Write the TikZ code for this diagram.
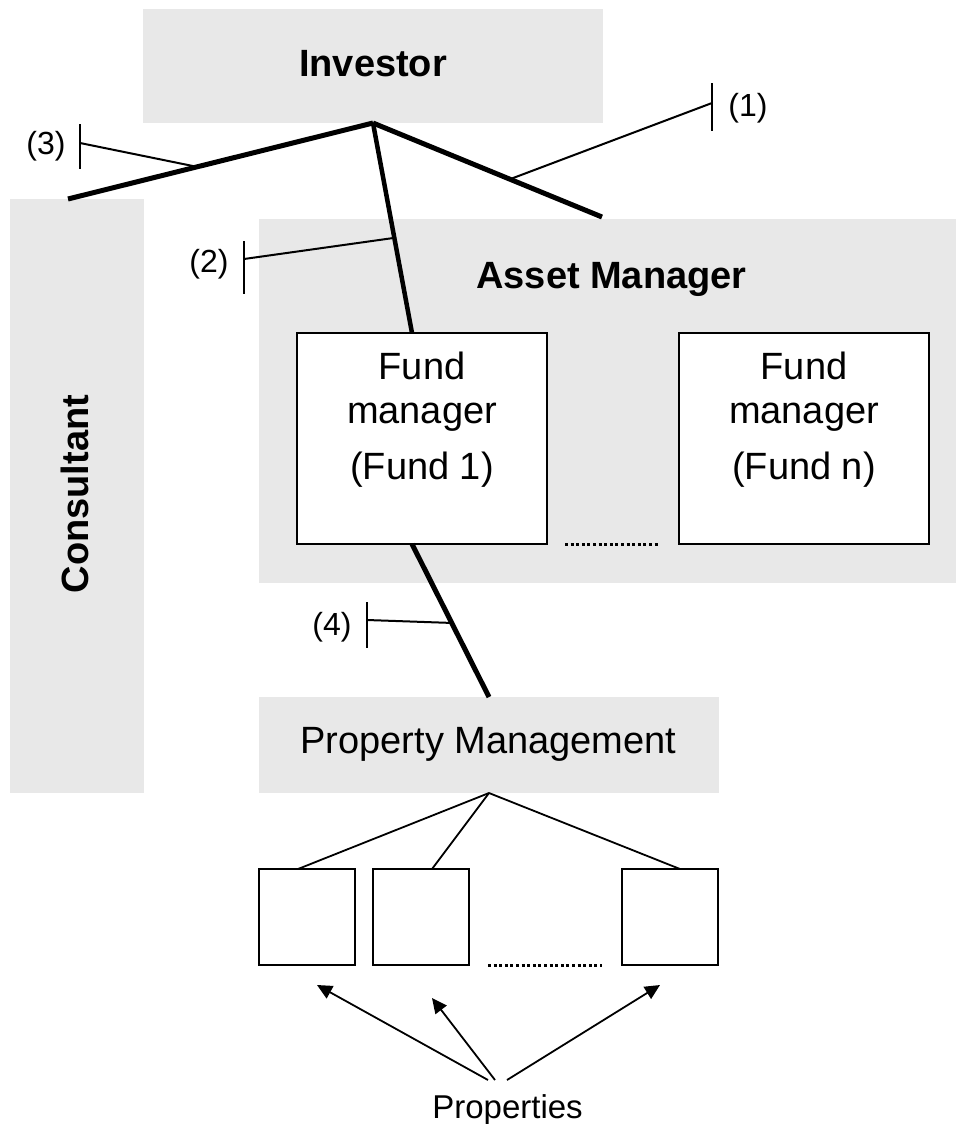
\documentclass[tikz,border=0pt]{standalone}
\usepackage{fontspec}
\setmainfont{Liberation Sans}
\usetikzlibrary{arrows.meta,calc}
\definecolor{boxgray}{RGB}{232,232,232}
\begin{document}
\begin{tikzpicture}[x=1pt,y=-1pt,
  graybox/.style={fill=boxgray, draw=none, inner sep=0pt, outer sep=0pt},
  whitebox/.style={fill=white, draw=black, line width=1.5pt, inner sep=0pt, outer sep=0pt},
  bigbold/.style={font=\fontsize{38}{44}\selectfont\bfseries, inner sep=0pt, anchor=base},
  bigreg/.style={font=\fontsize{38}{44}\selectfont, inner sep=0pt, anchor=base},
  fundtext/.style={font=\fontsize{38}{44}\selectfont, inner sep=0pt, align=center, anchor=north},
  labeltext/.style={font=\fontsize{32}{36}\selectfont, inner sep=0pt},
  heavyline/.style={line width=5pt},
  thinline/.style={line width=2pt},
  tickline/.style={line width=2.5pt},
  treeline/.style={line width=1.8pt},
  dotline/.style={line width=3pt, dash pattern=on 3pt off 2.6pt},
  arrowline/.style={line width=1.8pt, -{Triangle[length=15pt,width=14pt]}}
]
\useasboundingbox (0,0) rectangle (956,1124);

% boxes
\node[graybox, minimum width=460pt, minimum height=114pt] (inv) at (373,66) {};
\node[graybox, minimum width=134pt, minimum height=594pt] (cons) at (77,496) {};
\node[graybox, minimum width=697pt, minimum height=364pt] (am) at (607.5,401) {};
\node[whitebox, minimum width=250pt, minimum height=211pt] (fund1) at (422,438.5) {};
\node[whitebox, minimum width=250pt, minimum height=211pt] (fundn) at (804,438.5) {};
\node[graybox, minimum width=460pt, minimum height=96pt] (pm) at (489,745) {};
\node[whitebox, minimum width=96pt, minimum height=96pt] (sq1) at (307,917) {};
\node[whitebox, minimum width=96pt, minimum height=96pt] (sq2) at (421,917) {};
\node[whitebox, minimum width=96pt, minimum height=96pt] (sq3) at (670,917) {};

% texts
\node[bigbold] (invtxt) at (373,77) {Investor};
\node[bigbold, rotate=90] (constxt) at (88,494) {Consultant};
\node[bigbold] (amtxt) at (611.5,288) {Asset Manager};
\node[fundtext] (f1txt) at ([yshift=-19pt]fund1.north) {Fund\\manager\\[12pt](Fund 1)};
\node[fundtext] (fntxt) at ([yshift=-19pt]fundn.north) {Fund\\manager\\[12pt](Fund n)};
\node[bigreg] (pmtxt) at (488.5,753) {Property Management};
\node[font=\fontsize{33}{38}\selectfont, inner sep=0pt, anchor=base] (proptxt) at (507.5,1118) {Properties};
\node[labeltext] (lab1) at (748,108) {(1)};
\node[labeltext] (lab2) at (209,264) {(2)};
\node[labeltext] (lab3) at (46,146) {(3)};
\node[labeltext] (lab4) at (332,627) {(4)};

% free ends
\coordinate (c3end) at (68,199);
\coordinate (c1end) at (602,217);

% heavy connectors
\draw[heavyline] (inv.south) -- coordinate[pos=0.577] (m3) (c3end);
\draw[heavyline] (inv.south) -- coordinate[pos=0.598] (m1) (c1end);
\draw[line width=4.5pt] (inv.south) -- coordinate[pos=0.547] (m2) ([xshift=-10pt]fund1.north);
\draw[heavyline] ([xshift=-10pt]fund1.south) -- coordinate[pos=0.516] (m4) (pm.north);

% ticks
\coordinate (t1) at (712,103);
\coordinate (t2) at (244,259);
\coordinate (t3) at (80,143);
\coordinate (t4) at (367,620);
\draw[tickline] (712,83) -- (712,131);
\draw[tickline] (244,241) -- (244,294);
\draw[tickline] (80,124) -- (80,169);
\draw[tickline] (367,602) -- (367,648);
\draw[thinline] (t1) -- (m1);
\draw[thinline] (t2) -- (m2);
\draw[thinline] (t3) -- (m3);
\draw[thinline] (t4) -- (m4);

% dotted
\draw[dotline] ([xshift=18pt]fund1.south east) -- ([xshift=-19pt]fundn.south west);
\draw[dotline] ([xshift=19pt]sq2.south east) -- ([xshift=-20pt]sq3.south west);

% tree lines
\draw[treeline] (pm.south) -- ([xshift=-9pt]sq1.north);
\draw[treeline] (pm.south) -- ([xshift=11pt]sq2.north);
\draw[treeline] (pm.south) -- ([xshift=10pt]sq3.north);

% arrows
\coordinate (p1) at (488,1080);
\coordinate (p2) at (495,1080);
\coordinate (p3) at (507,1080);
\coordinate (a1) at (317,985);
\coordinate (a2) at (432,998);
\coordinate (a3) at (660,985);
\draw[arrowline] (p1) -- (a1);
\draw[arrowline] (p2) -- (a2);
\draw[arrowline] (p3) -- (a3);
\end{tikzpicture}
\end{document}
